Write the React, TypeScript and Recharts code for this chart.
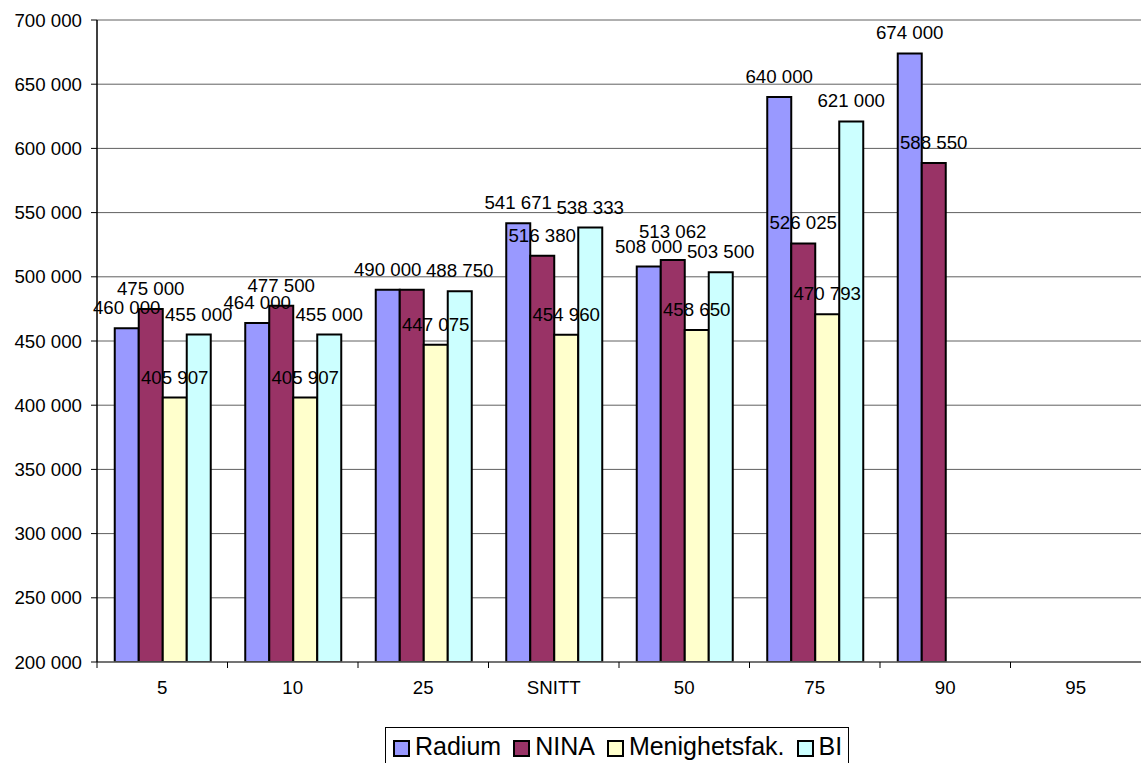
import React from 'react';
import { BarChart, Bar, XAxis, YAxis, CartesianGrid, Legend, LabelList } from 'recharts';

const categories = ['5', '10', '25', 'SNITT', '50', '75', '90', '95'];
const radium = [460000, 464000, 490000, 541671, 508000, 640000, 674000, null];
const nina = [475000, 477500, 490000, 516380, 513062, 526025, 588550, null];
const menighetsfak = [405907, 405907, 447075, 454960, 458650, 470793, null, null];
const bi = [455000, 455000, 488750, 538333, 503500, 621000, null, null];
const yTicks = [200000, 250000, 300000, 350000, 400000, 450000, 500000, 550000, 600000, 650000, 700000];

const seriesNames = ['Radium', 'NINA', 'Menighetsfak.', 'BI'];
const seriesValues = [radium, nina, menighetsfak, bi];
const seriesColors = ['#9999FF', '#993366', '#FFFFCC', '#CCFFFF'];

// labels the reference does not show, and labels lifted to avoid a collision
const hiddenLabels = ['NINA|25'];
const liftedLabels: Record<string, number> = { 'NINA|50': 8 };

const data = categories.map((c, i) => {
  const row: any = { category: c };
  seriesNames.forEach((n, k) => {
    row[n] = seriesValues[k][i];
  });
  return row;
});

const FONT = '"Liberation Sans", Arial, Helvetica, sans-serif';
const FS = 18.7;

const fmt = (v: any) => {
  if (v === null || v === undefined || v === '') return '';
  return String(v).replace(/\B(?=(\d{3})+(?!\d))/g, ' ');
};

const XTick = (props: any) => {
  const { x, y, payload } = props;
  const half = payload && typeof payload.offset === 'number' && payload.offset > 0 ? payload.offset : 1044 / categories.length / 2;
  return (
    <g>
      <line x1={x - half} x2={x - half} y1={y - 8} y2={y - 2} stroke="#000" strokeWidth={1} />
      <text x={x} y={y + 11} dy="0.71em" textAnchor="middle" fontSize={FS} fill="#000" fontFamily={FONT}>
        {payload.value}
      </text>
    </g>
  );
};

const makeLabel = (series: string) => (props: any) => {
  const { x, y, width, value, index } = props;
  const s = fmt(value);
  if (!s) return null;
  const key = `${series}|${categories[index]}`;
  if (hiddenLabels.includes(key)) return null;
  const lift = liftedLabels[key] || 0;
  return (
    <text x={Number(x) + Number(width) / 2} y={Number(y) - 14 - lift} textAnchor="middle" fontSize={FS} fill="#000" fontFamily={FONT}>
      {s}
    </text>
  );
};

const LegendBox = () => (
  <div
    style={{
      border: '1px solid #000',
      background: '#fff',
      display: 'flex',
      alignItems: 'center',
      height: 40,
      paddingLeft: 7,
      paddingRight: 6,
      boxSizing: 'border-box',
      fontFamily: FONT,
      fontSize: 25,
      color: '#000',
      whiteSpace: 'nowrap',
    }}
  >
    {seriesNames.map((n, k) => (
      <div key={n} style={{ display: 'flex', alignItems: 'center', marginRight: k === seriesNames.length - 1 ? 0 : 12, marginTop: -1 }}>
        <span
          style={{
            display: 'inline-block',
            width: 13,
            height: 13,
            border: '2px solid #000',
            background: seriesColors[k],
            marginRight: 5,
            marginTop: 4,
          }}
        />
        <span>{n}</span>
      </div>
    ))}
  </div>
);

export default function App() {
  return (
    <div style={{ position: 'absolute', left: 0, top: 0, width: 1141, height: 763, background: '#fff', fontFamily: FONT, overflow: 'hidden' }}>
      <BarChart
        width={1141}
        height={763}
        data={data}
        margin={{ top: 20, right: 0, bottom: 0, left: 0 }}
        barCategoryGap="13.6%"
        barGap={0}
      >
        <CartesianGrid vertical={false} stroke="#606060" strokeWidth={1} />
        <XAxis
          dataKey="category"
          height={101}
          tickSize={6}
          tickMargin={2}
          tickLine={false}
          tick={<XTick />}
          axisLine={{ stroke: '#606060', strokeWidth: 1.5 }}
          interval={0}
        />
        <YAxis
          width={97}
          domain={[200000, 700000]}
          ticks={yTicks}
          allowDataOverflow
          tickSize={6}
          tickMargin={9}
          tickFormatter={fmt}
          tick={{ fontSize: FS, fill: '#000', fontFamily: FONT }}
          tickLine={{ stroke: '#000' }}
          axisLine={{ stroke: '#000', strokeWidth: 1.5 }}
          interval={0}
        />
        <Legend
          verticalAlign="middle"
          align="center"
          layout="horizontal"
          content={<LegendBox />}
          wrapperStyle={{ position: 'absolute', left: 385, top: 727, width: 'auto', height: 'auto' }}
        />
        {seriesNames.map((n, k) => (
          <Bar key={n} dataKey={n} fill={seriesColors[k]} stroke="#000" strokeWidth={2} isAnimationActive={false}>
            <LabelList dataKey={n} content={makeLabel(n)} />
          </Bar>
        ))}
      </BarChart>
    </div>
  );
}
